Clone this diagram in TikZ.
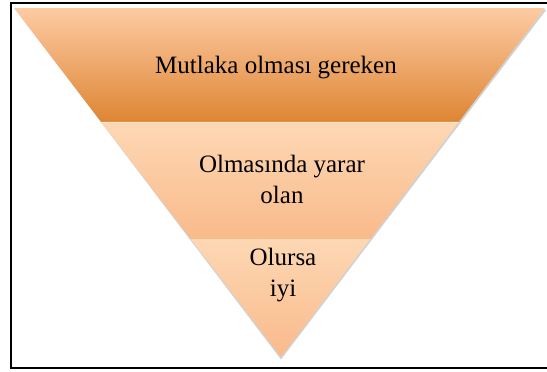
\documentclass[tikz,border=0pt]{standalone}
\usepackage{fontspec}
\setmainfont{Liberation Serif}
\usetikzlibrary{calc,shadows}

\definecolor{peachtop}{HTML}{FDCBA3}
\definecolor{orangebot}{HTML}{DE8533}
\definecolor{peachmid}{HTML}{FDD8B4}
\definecolor{peachdark}{HTML}{F9BA8B}

\tikzset{
  band/.style={draw=none},
  lbl/.style={align=center,font=\fontsize{25}{31}\selectfont,inner sep=0pt},
}

\begin{document}
\begin{tikzpicture}[x=1pt,y=-1pt]
        \useasboundingbox (0,0) rectangle (547,372);
        % frame
        \draw[line width=2pt] (551,3) -- (10.5,3) -- (10.5,368) -- (551,368);

        % corners of the funnel
        \coordinate (tl) at (14,8);
        \coordinate (tr) at (545,8);
        \coordinate (apex) at (281,357);

        % shadow under the funnel
        \fill[black,opacity=0.18] ($(tl)+(1.5,1.5)$) -- ($(tr)+(1.5,1.5)$) -- ($(apex)+(0,2.5)$) -- cycle;

        % cut points of the three bands
        \foreach \t/\n in {0.3266/a,0.6619/b} {
                \coordinate (l\n) at ($(tl)!\t!(apex)$);
                \coordinate (r\n) at ($(tr)!\t!(apex)$);
        }

        % the bands
        \shade[band,top color=peachtop,bottom color=orangebot] (tl) -- (tr) -- (ra) -- (la) -- cycle;
        \shade[band,top color=peachmid,bottom color=peachdark] (la) -- (ra) -- (rb) -- (lb) -- cycle;
        \shade[band,top color=peachmid,bottom color=peachdark] (lb) -- (rb) -- (apex) -- cycle;
        \draw[white!80!orange,line width=0.6pt] (la) -- (ra);

        % texts
        \node[lbl] (must) at (276,68) {Mutlaka olması gereken};
        \node[lbl] (useful) at (282,179) {Olmasında yarar\\olan};
        \node[lbl] (nice) at (283,275) {Olursa\\iyi};
\end{tikzpicture}
\end{document}
